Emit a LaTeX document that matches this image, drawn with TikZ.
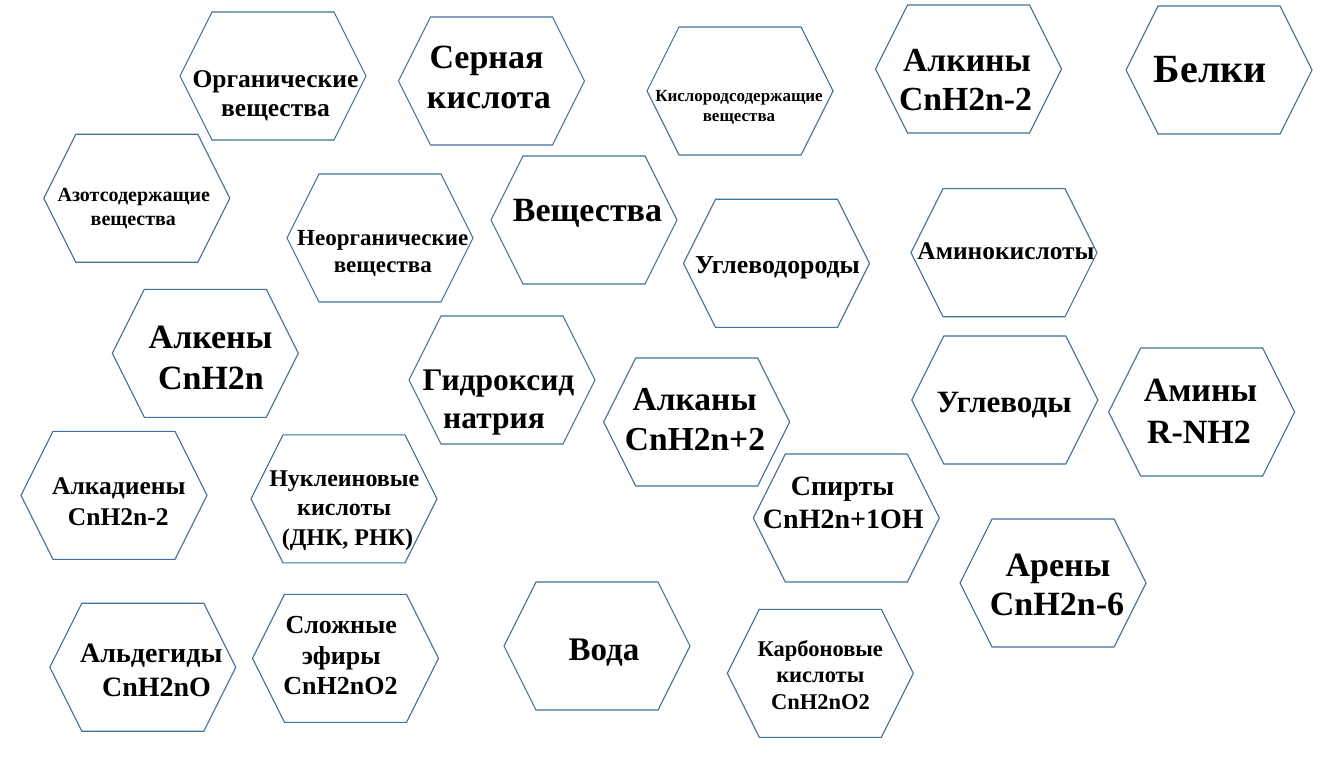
\documentclass[tikz,border=0pt]{standalone}
\usepackage{fontspec}
\setmainfont{Liberation Serif}
\definecolor{hexblue}{RGB}{65,113,156}
\tikzset{
  hexline/.style={draw=hexblue, line width=1.1pt, line join=miter},
  txt/.style={anchor=base, inner sep=0pt, text=black, font=\bfseries}
}
% hexagon: name, cx, cy
\newcommand\hexat[3]{%
  \coordinate (#1) at (#2,#3);
  \draw[hexline, shift={(#1)}] (-93,0) -- (-61,-64) -- (61,-64) -- (93,0) -- (61,64) -- (-61,64) -- cycle;
}
% text line: name, x, baseline y, size, text
\newcommand\tl[5]{%
  \node[txt] (#1) at (#2,#3) {\fontsize{#4}{#4}\selectfont #5};
}
\begin{document}
\begin{tikzpicture}[x=1pt,y=-1pt]
\fill[white] (0,0) rectangle (1335,759);
\useasboundingbox (0,0) rectangle (1335,759);

% hexagons
\hexat{h1}{273}{76}
\hexat{h2}{491.5}{81}
\hexat{h3}{740}{91}
\hexat{h4}{968.5}{69}
\hexat{h5}{1219}{70}
\hexat{h6}{136.8}{198.3}
\hexat{h7}{380}{238}
\hexat{h8}{584}{220}
\hexat{h9}{776.5}{263.3}
\hexat{h10}{1004}{252.7}
\hexat{h11}{205.3}{353.3}
\hexat{h12}{502}{380}
\hexat{h13}{696.7}{422}
\hexat{h14}{1004.8}{400}
\hexat{h15}{1201.7}{412}
\hexat{h16}{114}{495.3}
\hexat{h17}{344}{498.8}
\hexat{h18}{846.3}{518}
\hexat{h19}{1053}{583}
\hexat{h20}{142.8}{667.2}
\hexat{h21}{345.5}{658.3}
\hexat{h22}{597}{646}
\hexat{h23}{820.3}{673.3}

% texts
\tl{t1a}{275.5}{87.3}{25.5}{Органические}
\tl{t1b}{275.5}{116.7}{25.5}{вещества}
\tl{t2a}{486.5}{68.3}{34}{Серная}
\tl{t2b}{489}{108.3}{34}{кислота}
\tl{t3a}{739}{101.7}{17}{Кислородсодержащие}
\tl{t3b}{739}{121.7}{17}{вещества}
\tl{t4a}{967}{72}{33.7}{Алкины}
\tl{t4b}{965.5}{111}{33.7}{CnH2n-2}
\tl{t5}{1210.3}{82.7}{40}{Белки}
\tl{t6a}{133.8}{201.7}{20}{Азотсодержащие}
\tl{t6b}{133.3}{225.7}{20}{вещества}
\tl{t7a}{382.8}{245.7}{23}{Неорганические}
\tl{t7b}{382.8}{272.7}{23}{вещества}
\tl{t8}{587.5}{221.7}{34}{Вещества}
\tl{t9}{777.5}{273.3}{25.8}{Углеводороды}
\tl{t10}{1006}{260}{25.4}{Аминокислоты}
\tl{t11a}{210.5}{348.3}{34}{Алкены}
\tl{t11b}{211}{389.3}{34}{CnH2n}
\tl{t12a}{498.5}{390}{31.5}{Гидроксид}
\tl{t12b}{494}{428.3}{31.5}{натрия}
\tl{t13a}{694.7}{410}{33.5}{Алканы}
\tl{t13b}{695}{450}{33.5}{CnH2n+2}
\tl{t14}{1004}{412.3}{31}{Углеводы}
\tl{t15a}{1200.5}{401.7}{34}{Амины}
\tl{t15b}{1199}{443.3}{34}{R-NH2}
\tl{t16a}{118.8}{494}{25.5}{Алкадиены}
\tl{t16b}{118.3}{525}{25.5}{CnH2n-2}
\tl{t17a}{344.3}{486}{24}{Нуклеиновые}
\tl{t17b}{344.2}{515}{24}{кислоты}
\tl{t17c}{347.5}{545}{24}{(ДНК, РНК)}
\tl{t18a}{842.5}{495}{28}{Спирты}
\tl{t18b}{843.3}{528.3}{28}{CnH2n+1OH}
\tl{t19a}{1058}{576}{34}{Арены}
\tl{t19b}{1057}{615}{34}{CnH2n-6}
\tl{t20a}{151.3}{662.3}{28}{Альдегиды}
\tl{t20b}{156.5}{696}{28}{CnH2nO}
\tl{t21a}{341.3}{633.3}{26}{Сложные}
\tl{t21b}{341.2}{664}{26}{эфиры}
\tl{t21c}{340.5}{694}{26}{CnH2nO2}
\tl{t22}{604}{660}{33}{Вода}
\tl{t23a}{820.3}{656}{22.5}{Карбоновые}
\tl{t23b}{820.3}{682.3}{22.5}{кислоты}
\tl{t23c}{820.5}{709.3}{22.5}{CnH2nO2}
\end{tikzpicture}
\end{document}
